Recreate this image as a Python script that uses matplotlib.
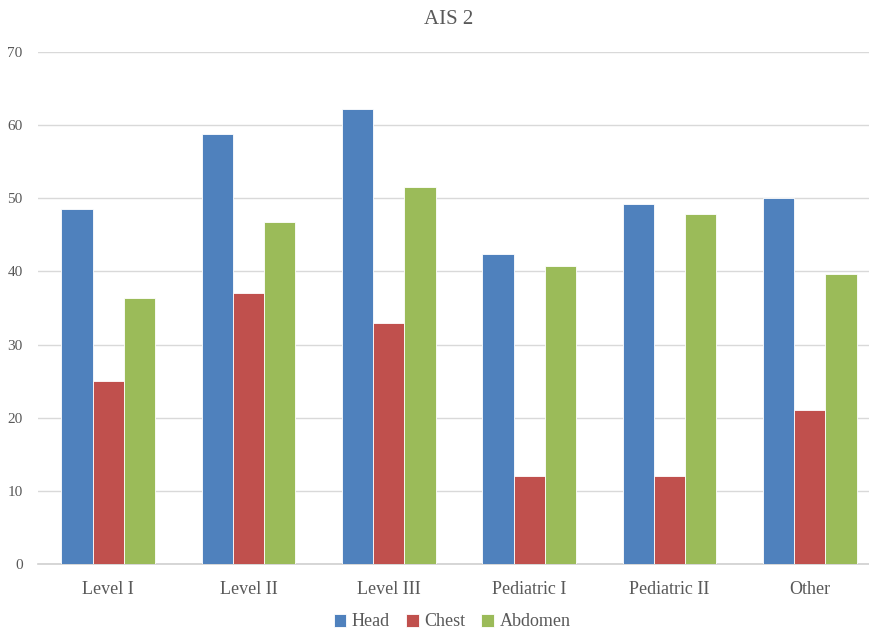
import matplotlib
matplotlib.use("Agg")
import matplotlib.pyplot as plt
import numpy as np

categories = ["Level I", "Level II", "Level III", "Pediatric I", "Pediatric II", "Other"]
head = [48.5, 58.8, 62.2, 42.4, 49.2, 50.0]
chest = [25.0, 37.0, 33.0, 12.0, 12.0, 21.0]
abdomen = [36.3, 46.7, 51.5, 40.8, 47.9, 39.6]

series = [("Head", head, "#4F81BD"), ("Chest", chest, "#C0504D"), ("Abdomen", abdomen, "#9BBB59")]

plt.rcParams["font.family"] = ["Liberation Serif", "DejaVu Serif"]
text_color = "#595959"

fig = plt.figure(figsize=(8.69, 6.30), dpi=100)
# plot area runs slightly past the right edge of the canvas
ax = fig.add_axes([38 / 869, 66 / 630, 842 / 869, 512 / 630])

x = np.arange(len(categories))
w = 0.222
for i, (name, vals, col) in enumerate(series):
    ax.bar(x + (i - 1) * w, vals, width=w, color=col, edgecolor="white",
           linewidth=0.6, label=name, zorder=3)

ax.set_xlim(-0.5, len(categories) - 0.5)
ax.set_ylim(0, 70)
ax.set_yticks(range(0, 71, 10))
ax.set_xticks(x)
ax.set_xticklabels(categories)
ax.grid(axis="y", color="#D9D9D9", linewidth=1.0, zorder=0)
for s in ["top", "right", "left"]:
    ax.spines[s].set_visible(False)
ax.spines["bottom"].set_color("#D0D0D0")
ax.spines["bottom"].set_linewidth(1.2)
ax.tick_params(axis="y", length=0, pad=11, labelsize=11, labelcolor=text_color)
ax.tick_params(axis="x", length=0, pad=12, labelsize=13, labelcolor=text_color)

fig.text(449 / 869, 1 - 20 / 630, "AIS 2", ha="center", va="center",
         fontsize=15, color=text_color)

fig.legend(loc="center", bbox_to_anchor=(452 / 869, 1 - 622 / 630), ncol=3,
           frameon=False, fontsize=13, handlelength=0.7, handleheight=0.7,
           handletextpad=0.3, columnspacing=0.9, labelcolor=text_color)

fig.savefig("out.png", dpi=100)
